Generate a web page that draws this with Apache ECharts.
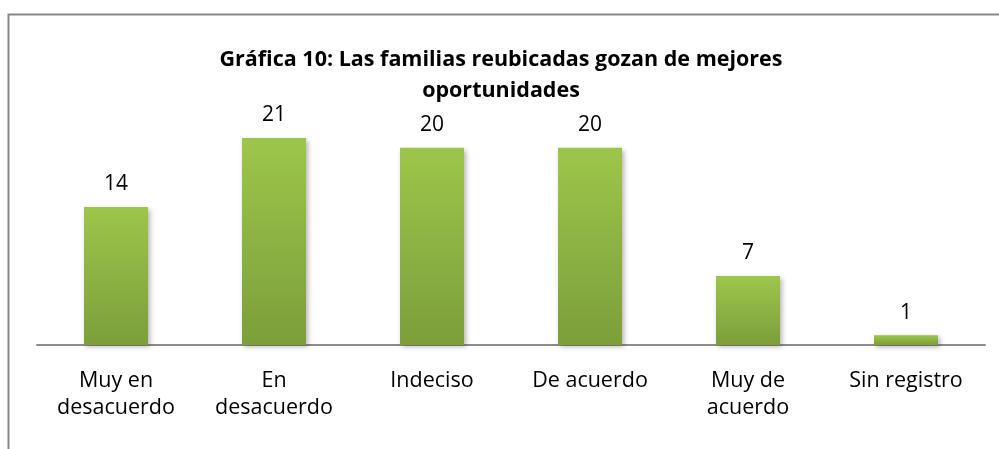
<!DOCTYPE html>
<html>
<head>
<meta charset="utf-8">
<script src="https://cdn.jsdelivr.net/npm/echarts@6/dist/echarts.min.js"></script>
<style>
  html, body { margin: 0; padding: 0; background: #fff; }
  #grafica { width: 999px; height: 449px; }
</style>
</head>
<body>
<div id="grafica"></div>
<script>
// datos de la gráfica
var categorias = ['Muy en\ndesacuerdo', 'En\ndesacuerdo', 'Indeciso', 'De acuerdo', 'Muy de\nacuerdo', 'Sin registro'];
var valores = [14, 21, 20, 20, 7, 1];

var chart = echarts.init(document.getElementById('grafica'));
var fuente = '"Open Sans", "Noto Sans", sans-serif';

var option = {
    animation: false,
    graphic: [{
        type: 'rect',
        shape: {x: 8.5, y: 14.5, width: 1100, height: 600},
        style: {fill: 'none', stroke: '#878787', lineWidth: 2},
        z: 0
    }],
    title: {
        text: 'Gráfica 10: Las familias reubicadas gozan de mejores\noportunidades',
        left: 496,
        textAlign: 'center',
        top: 39,
        textStyle: {
            fontFamily: fuente,
            fontWeight: 'bold',
            fontSize: 21.5,
            lineHeight: 31,
            color: '#000'
        }
    },
    grid: {
        left: 37,
        right: 14,
        top: 98.5,
        bottom: 104
    },
    xAxis: {
        type: 'category',
        data: categorias,
        axisLine: {lineStyle: {color: '#8c8c8c', width: 2}},
        axisTick: {show: false},
        axisLabel: {
            fontFamily: fuente,
            fontSize: 21.5,
            lineHeight: 27,
            color: '#000',
            margin: 22,
            interval: 0
        }
    },
    yAxis: {
        type: 'value',
        min: 0,
        max: 25,
        show: false,
        splitLine: {show: false}
    },
    series: [{
        type: 'bar',
        data: valores,
        barWidth: 64,
        itemStyle: {
            color: new echarts.graphic.LinearGradient(0, 0, 0, 1, [
                {offset: 0, color: '#9cc64b'},
                {offset: 1, color: '#7c9f3a'}
            ]),
            shadowColor: 'rgba(0,0,0,0.3)',
            shadowBlur: 5,
            shadowOffsetX: 2,
            shadowOffsetY: 2
        },
        label: {
            show: true,
            position: 'top',
            distance: 12,
            fontFamily: fuente,
            fontSize: 21,
            color: '#000'
        }
    }]
};
chart.setOption(option);
</script>
</body>
</html>
